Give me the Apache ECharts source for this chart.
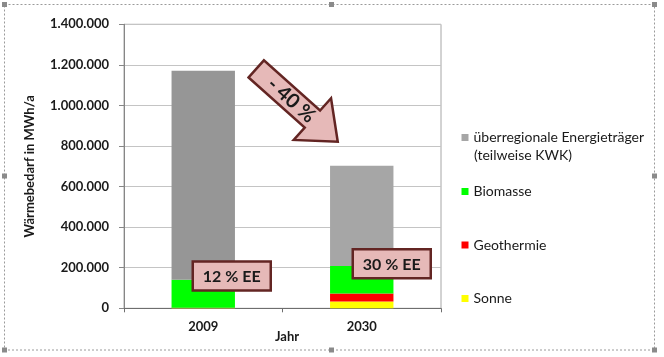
<!DOCTYPE html>
<html><head><meta charset="utf-8">
<script src="https://cdn.jsdelivr.net/npm/echarts/dist/echarts.min.js"></script>
<style>html,body{margin:0;padding:0;background:#fff}#c{width:664px;height:357px}</style>
</head><body><div id="c"></div>
<script>
const categories = ['2009', '2030'];
const seriesNames = ['Sonne', 'Geothermie', 'Biomasse', 'überregionale Energieträger (teilweise KWK)'];
const sonne = [1000, 33000];
const geothermie = [2000, 40000];
const biomasse = [138000, 135000];
const ueberregional = [1030000, 495000];
const yMin = 0, yMax = 1400000, yStep = 200000;
const arrowText = '- 40 %';
const boxTexts = ['12 % EE', '30 % EE'];
const yName = 'Wärmebedarf in MWh/a';
const xName = 'Jahr';

const FONT = 'Lato';
const TXT = '#1a1a1a';
const chart = echarts.init(document.getElementById('c'), null, {renderer: 'canvas'});
const fmt = v => String(v).replace(/\B(?=(\d{3})+(?!\d))/g, '.');

const colors = ['#ffff00', '#ff0000', '#00ff00', '#a6a6a6'];
const vals = [sonne, geothermie, biomasse, ueberregional];
const series = seriesNames.map((n, i) => ({
  name: n, type: 'bar', stack: 'total', barWidth: '40%',
  itemStyle: {color: colors[i]},
  data: vals[i].map((v, j) => (i === 3 && j === 0) ? {value: v, itemStyle: {color: '#969696'}} : v),
  emphasis: {disabled: true}, animation: false
}));

const legendTops = [128.5, 182.5, 236, 289.5];
const legendOrder = [3, 2, 1, 0];
const legends = legendOrder.map((si, k) => ({
  data: [{name: seriesNames[si], textStyle: {fontFamily: FONT, fontSize: 14, color: TXT}}],
  left: 461.5, top: legendTops[k], padding: 0,
  orient: 'vertical', itemWidth: 7, itemHeight: 7, icon: 'rect', itemGap: 5,
  selectedMode: false,
  formatter: name => name.replace(' (teilweise KWK)', ''),
  textStyle: {fontFamily: FONT, fontSize: 14, color: TXT, lineHeight: 18}
}));

chart.setOption({
  animation: false,
  backgroundColor: '#fff',
  grid: {left: 124, right: 223, top: 24.3, bottom: 48.7, show: true, borderColor: '#a6a6a6', borderWidth: 1},
  legend: legends,
  xAxis: {
    type: 'category', data: categories,
    name: xName, nameLocation: 'middle', nameGap: 22, nameMoveOverlap: false,
    nameTextStyle: {fontFamily: FONT, fontSize: 13, fontWeight: 'bold', color: TXT, padding: [0, 0, 0, 9]},
    axisLine: {lineStyle: {color: '#6e6e6e', width: 1}},
    axisTick: {show: true, length: 4, lineStyle: {color: '#6e6e6e'}},
    axisLabel: {fontFamily: FONT, fontSize: 13, fontWeight: 'bold', color: TXT, margin: 12}
  },
  yAxis: {
    type: 'value', min: yMin, max: yMax, interval: yStep,
    name: yName, nameLocation: 'middle', nameGap: 88, nameRotate: 90,
    nameTextStyle: {fontFamily: FONT, fontSize: 13, fontWeight: 'bold', color: TXT},
    axisLine: {show: true, lineStyle: {color: '#868686'}},
    axisTick: {show: true, length: 5, lineStyle: {color: '#868686'}},
    splitLine: {lineStyle: {color: '#c4c4c4'}},
    axisLabel: {fontFamily: FONT, fontSize: 13, fontWeight: 'bold', color: TXT, margin: 15, formatter: fmt}
  },
  series: series
});

const px = (ci, v) => chart.convertToPixel({xAxisIndex: 0, yAxisIndex: 0}, [ci, v]);
const PINK = '#e6b9b8', DARK = '#632523';
const g = [];

// outer dashed selection frame
g.push({type: 'rect', shape: {x: 4.5, y: 4.5, width: 650, height: 345.5}, style: {fill: null, stroke: '#9a9a9a', lineDash: [2, 2], lineWidth: 1}, z: 0});
[[4.5,4.5],[331.5,4.5],[654.5,4.5],[4.5,176],[654.5,176],[4.5,350],[331.5,350],[654.5,350]].forEach(p => {
  g.push({type: 'rect', shape: {x: p[0]-2.5, y: p[1]-2.5, width: 5, height: 5}, style: {fill: '#8a8a8a'}, z: 1});
});

// second line of first legend entry
g.push({type: 'text', left: 474, top: 148, style: {text: '(teilweise KWK)', fontFamily: FONT, fontSize: 14, fill: TXT}, z: 10});

// arrow
const tail = px(0, 1180000); tail[0] += 53;
const tip = px(1, 821000); tip[0] -= 24;
const dx = tip[0] - tail[0], dy = tip[1] - tail[1], L = Math.hypot(dx, dy);
const u = [dx / L, dy / L], n = [-u[1], u[0]];
const w = 11.5, H = 28, hl = 34;
const neck = [tip[0] - u[0] * hl, tip[1] - u[1] * hl];
const P = (b, s) => [b[0] + n[0] * s, b[1] + n[1] * s];
g.push({type: 'polygon', shape: {points: [P(tail, w), P(neck, w), P(neck, H), tip, P(neck, -H), P(neck, -w), P(tail, -w)]},
  style: {fill: PINK, stroke: DARK, lineWidth: 2.5, lineJoin: 'miter'}, z: 100});
const tc = [tail[0] + u[0] * 47, tail[1] + u[1] * 47];
g.push({type: 'text', x: tc[0], y: tc[1], rotation: -Math.atan2(dy, dx),
  style: {text: arrowText, fontFamily: FONT, fontWeight: 'bold', fontSize: 20, fill: TXT, align: 'center', verticalAlign: 'middle'}, z: 101});

// EE boxes
const boxAnchors = [[0, 159000, 28.5], [1, 219000, 30]];
boxAnchors.forEach((a, i) => {
  const c = px(a[0], a[1]); c[0] += a[2];
  g.push({type: 'rect', shape: {x: c[0] - 39, y: c[1] - 14.5, width: 78, height: 29}, style: {fill: PINK, stroke: DARK, lineWidth: 2.5}, z: 100});
  g.push({type: 'text', x: c[0], y: c[1] + 0.5, style: {text: boxTexts[i], fontFamily: FONT, fontWeight: 'bold', fontSize: 16, fill: TXT, align: 'center', verticalAlign: 'middle'}, z: 101});
});

chart.setOption({graphic: g});
</script>
</body></html>
